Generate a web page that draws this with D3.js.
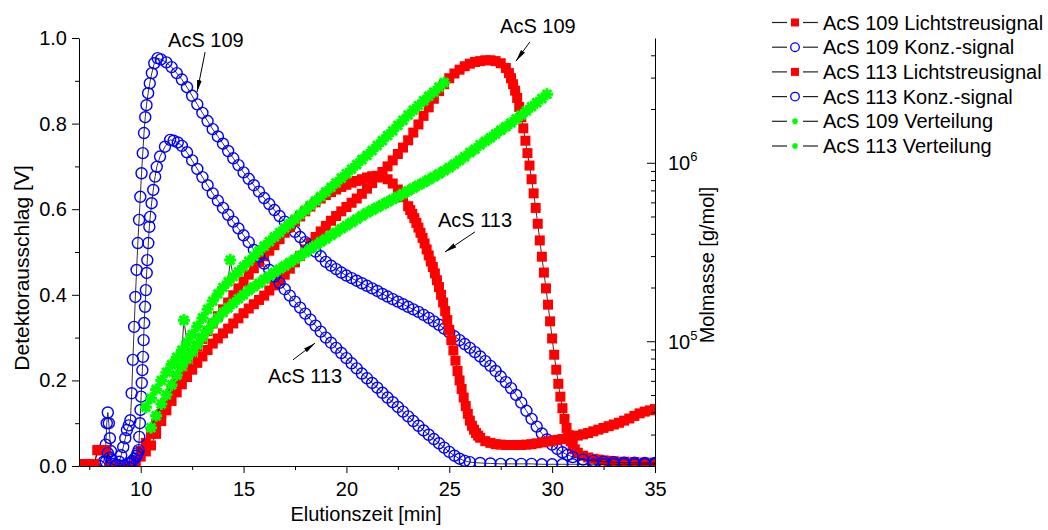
<!DOCTYPE html>
<html><head><meta charset="utf-8">
<script src="https://cdn.jsdelivr.net/npm/d3@7"></script>
<style>
body{margin:0;background:#fff}
text{font-family:Arial,"Liberation Sans",sans-serif;fill:#000}
</style></head>
<body><svg id="c" width="1048" height="530"></svg>
<script>
// ---------- data: [Elutionszeit (min), value] ----------
const ls109 = [[7,0.004],[7.25,0.004],[7.5,0.004],[7.75,0.004],[7.9,0.037],[8.1,0.037],[8.3,0.037],[8.5,0],[8.75,0],[9,0],[9.25,0],[9.5,0],
[9.75,0.01],[10,0.022],[10.25,0.034],[10.5,0.048],[10.75,0.075],[11,0.105],[11.25,0.13],[11.5,0.152],[11.75,0.172],[12,0.191],[12.25,0.208],[12.5,0.225],[12.75,0.241],[13,0.256],[13.25,0.271],[13.5,0.286],[13.75,0.298],[14,0.31],[14.25,0.321],[14.5,0.333],[14.75,0.345],[15,0.357],[15.25,0.368],[15.5,0.378],[15.75,0.388],[16,0.398],[16.25,0.41],[16.5,0.422],[16.75,0.433],[17,0.447],[17.25,0.461],[17.5,0.476],[17.75,0.491],[18,0.506],[18.25,0.521],[18.5,0.535],[18.75,0.548],[19,0.561],[19.25,0.573],[19.5,0.584],[19.75,0.595],[20,0.605],[20.25,0.615],[20.5,0.625],[20.75,0.636],[21,0.648],[21.25,0.661],[21.5,0.674],[21.75,0.687],[22,0.7],[22.25,0.714],[22.5,0.729],[22.75,0.744],[23,0.761],[23.25,0.779],[23.5,0.798],[23.75,0.818],[24,0.838],[24.25,0.858],[24.5,0.876],[24.75,0.892],[25,0.906],[25.25,0.917],[25.5,0.926],[25.75,0.934],[26,0.94],[26.25,0.944],[26.5,0.946],[26.75,0.948],[27,0.948],[27.25,0.946],[27.5,0.941],[27.75,0.93],[27.9,0.918],[28,0.906],[28.1,0.892],[28.2,0.877],[28.3,0.86],[28.4,0.839],[28.5,0.815],[28.6,0.789],[28.7,0.76],[28.8,0.731],[28.9,0.702],[29,0.67],[29.1,0.637],[29.2,0.603],[29.3,0.566],[29.4,0.527],[29.5,0.489],[29.6,0.452],[29.7,0.415],[29.8,0.377],[29.9,0.338],[30,0.298],[30.1,0.26],[30.2,0.225],[30.3,0.192],[30.4,0.162],[30.5,0.135],[30.6,0.11],[30.7,0.089],[30.8,0.072],[30.9,0.058],[31,0.047],[31.1,0.039],[31.25,0.031],[31.5,0.024],[31.75,0.02],[32,0.017],[32.25,0.015],[32.5,0.013],[32.75,0.012],[33,0.011],[33.5,0.01],[34,0.009],[34.5,0.008],[35,0.008]];

const konz109 = [[8,0],[8.2,0.01],[8.3,0.05],[8.35,0.1],[8.4,0.125],[8.45,0.1],[8.5,0.065],[8.55,0.035],[8.6,0.015],[8.7,0.005],[8.8,0.002],[8.9,0.002],
[8.95,0.01],[9.05,0.025],[9.15,0.044],[9.25,0.065],[9.33,0.084],[9.42,0.095],[9.5,0.107],[9.56,0.17],[9.62,0.248],[9.68,0.325],[9.74,0.395],[9.8,0.458],[9.86,0.521],[9.92,0.575],[9.98,0.629],[10.04,0.684],[10.1,0.731],[10.16,0.778],[10.22,0.815],[10.28,0.843],[10.36,0.871],[10.44,0.894],[10.54,0.918],[10.66,0.941],[10.82,0.953],[10.98,0.95],
[11.25,0.943],[11.5,0.932],[11.75,0.918],[12,0.903],[12.25,0.885],[12.5,0.865],[12.75,0.845],[13,0.825],[13.25,0.806],[13.5,0.787],[13.75,0.77],[14,0.753],[14.25,0.736],[14.5,0.719],[14.75,0.703],[15,0.686],[15.25,0.671],[15.5,0.656],[15.75,0.641],[16,0.626],[16.25,0.612],[16.5,0.598],[16.75,0.584],[17,0.571],[17.25,0.559],[17.5,0.547],[17.75,0.535],[18,0.523],[18.25,0.512],[18.5,0.501],[18.75,0.49],[19,0.477],[19.25,0.468],[19.5,0.46],[19.75,0.452],[20,0.445],[20.25,0.439],[20.5,0.433],[20.75,0.427],[21,0.421],[21.25,0.415],[21.5,0.409],[21.75,0.402],[22,0.396],[22.25,0.39],[22.5,0.384],[22.75,0.378],[23,0.372],[23.25,0.366],[23.5,0.36],[23.75,0.353],[24,0.346],[24.25,0.338],[24.5,0.33],[24.75,0.321],[25,0.312],[25.25,0.303],[25.5,0.294],[25.75,0.285],[26,0.276],[26.25,0.266],[26.5,0.256],[26.75,0.245],[27,0.234],[27.25,0.222],[27.5,0.209],[27.75,0.196],[28,0.182],[28.25,0.166],[28.5,0.148],[28.75,0.129],[29,0.11],[29.25,0.092],[29.5,0.076],[29.75,0.062],[30,0.05],[30.25,0.04],[30.5,0.032],[30.75,0.026],[31,0.021],[31.5,0.015],[32,0.012],[32.5,0.01],[33,0.009],[33.5,0.008],[34,0.008],[34.5,0.007],[35,0.007]];

const ls113 = [[7,0.004],[7.25,0.004],[7.5,0.004],[7.75,0.004],[7.9,0.037],[8.1,0.037],[8.3,0.037],[8.5,0],[8.75,0],[9,0],[9.25,0],[9.5,0],
[9.75,0.012],[10,0.035],[10.25,0.054],[10.5,0.076],[10.75,0.097],[11,0.122],[11.25,0.15],[11.5,0.178],[11.75,0.203],[12,0.226],[12.25,0.245],[12.5,0.262],[12.75,0.279],[13,0.297],[13.25,0.315],[13.5,0.333],[13.75,0.35],[14,0.366],[14.25,0.382],[14.5,0.399],[14.75,0.415],[15,0.431],[15.25,0.447],[15.5,0.462],[15.75,0.477],[16,0.49],[16.25,0.503],[16.5,0.516],[16.75,0.53],[17,0.545],[17.25,0.558],[17.5,0.571],[17.75,0.583],[18,0.595],[18.25,0.606],[18.5,0.616],[18.75,0.625],[19,0.633],[19.25,0.64],[19.5,0.646],[19.75,0.652],[20,0.657],[20.25,0.662],[20.5,0.666],[20.75,0.67],[21,0.674],[21.25,0.677],[21.5,0.678],[21.75,0.675],[22,0.67],[22.25,0.66],[22.5,0.646],[22.75,0.628],[23,0.607],[23.1,0.598],[23.2,0.589],[23.3,0.579],[23.4,0.568],[23.5,0.557],[23.6,0.545],[23.7,0.533],[23.8,0.52],[23.9,0.506],[24,0.492],[24.1,0.478],[24.2,0.465],[24.3,0.45],[24.4,0.434],[24.5,0.418],[24.6,0.4],[24.7,0.382],[24.8,0.362],[24.9,0.341],[25,0.318],[25.1,0.294],[25.2,0.27],[25.3,0.246],[25.4,0.222],[25.5,0.2],[25.6,0.18],[25.7,0.16],[25.8,0.14],[25.9,0.122],[26,0.106],[26.1,0.094],[26.2,0.085],[26.3,0.077],[26.4,0.071],[26.5,0.066],[26.75,0.058],[27,0.054],[27.25,0.051],[27.5,0.05],[27.75,0.049],[28,0.049],[28.25,0.049],[28.5,0.049],[28.75,0.05],[29,0.051],[29.25,0.053],[29.5,0.055],[29.75,0.057],[30,0.059],[30.25,0.061],[30.5,0.063],[30.75,0.065],[31,0.068],[31.25,0.071],[31.5,0.074],[31.75,0.077],[32,0.081],[32.25,0.085],[32.5,0.089],[32.75,0.093],[33,0.097],[33.25,0.101],[33.5,0.106],[33.75,0.111],[34,0.117],[34.25,0.123],[34.5,0.127],[34.75,0.13],[35,0.133]];

const konz113 = [[8.3,0.01],[8.4,0.03],[8.5,0.02],[8.6,0.005],[8.8,0],[9,0],[9.2,0.002],[9.4,0.005],[9.5,0.008],[9.6,0.012],[9.7,0.017],[9.8,0.024],[9.85,0.03],
[9.9,0.037],[9.93,0.068],[9.96,0.1],[9.99,0.131],[10.02,0.162],[10.05,0.194],[10.08,0.224],[10.11,0.255],[10.14,0.294],[10.17,0.334],[10.21,0.372],[10.25,0.411],[10.29,0.451],[10.32,0.481],[10.37,0.521],[10.42,0.559],[10.46,0.582],[10.53,0.614],[10.61,0.645],[10.7,0.676],[10.78,0.699],[10.94,0.723],[11.18,0.746],[11.43,0.762],
[11.6,0.76],[11.8,0.756],[12,0.748],[12.25,0.733],[12.5,0.714],[12.75,0.694],[13,0.675],[13.25,0.656],[13.5,0.637],[13.75,0.62],[14,0.603],[14.25,0.587],[14.5,0.571],[14.75,0.555],[15,0.539],[15.25,0.523],[15.5,0.505],[15.75,0.489],[16,0.473],[16.25,0.458],[16.5,0.443],[16.75,0.428],[17,0.413],[17.25,0.398],[17.5,0.384],[17.75,0.37],[18,0.356],[18.25,0.342],[18.5,0.328],[18.75,0.314],[19,0.3],[19.25,0.288],[19.5,0.276],[19.75,0.264],[20,0.252],[20.25,0.24],[20.5,0.228],[20.75,0.216],[21,0.205],[21.25,0.194],[21.5,0.183],[21.75,0.171],[22,0.16],[22.25,0.149],[22.5,0.138],[22.75,0.127],[23,0.116],[23.25,0.105],[23.5,0.094],[23.75,0.083],[24,0.073],[24.25,0.063],[24.5,0.053],[24.75,0.043],[25,0.033],[25.25,0.024],[25.5,0.017],[25.75,0.012],[26,0.009],[26.5,0.007],[27,0.006],[27.5,0.005],[28,0.005],[28.5,0.005],[29,0.005],[29.5,0.004],[30,0.004],[30.5,0.004],[31,0.004],[31.5,0.004],[32,0.004],[32.5,0.004],[33,0.004],[33.5,0.004],[34,0.004],[34.5,0.004],[35,0.004]];

// Verteilung: [Elutionszeit (min), Molmasse (g/mol)]
const vert109 = [[10.5,32800],[10.75,38200],[11,44500],[11.25,50100],[11.5,56900],[11.75,64600],[12,72400],[12.25,79400],[12.5,87100],[12.75,95500],[13,105000],[13.25,115000],[13.5,126000],[13.75,135000],[14,145000],[14.25,154000],[14.5,163000],[14.75,173000],[15,182000],[15.25,193000],[15.5,202000],[15.75,211000],[16,222000],[16.25,232000],[16.5,243000],[16.75,254000],[17,264000],[17.25,276000],[17.5,288000],[17.75,301000],[18,315000],[18.25,330000],[18.5,344000],[18.75,360000],[19,375000],[19.25,392000],[19.5,408000],[19.75,427000],[20,445000],[20.25,463000],[20.5,483000],[20.75,504000],[21,524000],[21.25,543000],[21.5,562000],[21.75,582000],[22,603000],[22.25,624000],[22.5,646000],[22.75,670000],[23,695000],[23.25,721000],[23.5,748000],[23.75,774000],[24,804000],[24.25,834000],[24.5,867000],[24.75,902000],[25,940000],[25.25,982000],[25.5,1030000],[25.75,1080000],[26,1140000],[26.25,1190000],[26.5,1260000],[26.75,1320000],[27,1380000],[27.25,1450000],[27.5,1520000],[27.75,1590000],[28,1670000],[28.25,1760000],[28.5,1850000],[28.75,1950000],[29,2060000],[29.25,2170000],[29.5,2290000],[29.75,2420000]];

const vert113 = [[10.25,42700],[10.5,47900],[10.75,53700],[11,60300],[11.25,67000],[11.5,74000],[11.75,81300],[12,89100],[12.1,131000],[12.25,98600],[12.5,109000],[12.75,121000],[13,135000],[13.25,151000],[13.5,168000],[13.75,184000],[14,200000],[14.25,215000],[14.35,285000],[14.5,230000],[14.75,245000],[15,262000],[15.25,280000],[15.5,299000],[15.75,320000],[16,341000],[16.25,362000],[16.5,384000],[16.75,406000],[17,431000],[17.25,456000],[17.5,483000],[17.75,513000],[18,543000],[18.25,577000],[18.5,611000],[18.75,647000],[19,686000],[19.25,728000],[19.5,771000],[19.75,819000],[20,867000],[20.25,920000],[20.5,977000],[20.75,1040000],[21,1100000],[21.25,1170000],[21.5,1250000],[21.75,1330000],[22,1420000],[22.25,1510000],[22.5,1620000],[22.75,1730000],[23,1850000],[23.25,1970000],[23.5,2090000],[23.75,2220000],[24,2360000],[24.25,2490000],[24.5,2650000],[24.75,2810000]];

const xMajorTicks = [10,15,20,25,30,35];
const xMinorTicks = [7.5,12.5,17.5,22.5,27.5,32.5];
const yMajorTicks = [0,0.2,0.4,0.6,0.8,1.0];
const yMinorTicks = [0.1,0.3,0.5,0.7,0.9];
const rMajorTicks = [1e5,1e6];
const rMinorTicks = [3e4,4e4,5e4,6e4,7e4,8e4,9e4,2e5,3e5,4e5,5e5,6e5,7e5,8e5,9e5,2e6,3e6,4e6];

const legendNames = ["AcS 109 Lichtstreusignal","AcS 109 Konz.-signal","AcS 113 Lichtstreusignal","AcS 113 Konz.-signal","AcS 109 Verteilung","AcS 113 Verteilung"];
const annotations = [
  {text:"AcS 109", t:11.33, v:0.979, from:[13.13,0.967], to:[12.74,0.874]},
  {text:"AcS 109", t:27.47, v:1.012, from:[28.92,0.991], to:[28.24,0.946]},
  {text:"AcS 113", t:24.45, v:0.558, from:[26.25,0.547], to:[24.79,0.50]},
  {text:"AcS 113", t:16.19, v:0.194, from:[17.40,0.248], to:[18.47,0.287]}
];

// ---------- layout ----------
const X0=79, X1=655, Y0=466, Y1=38;
const RED="#ff0000", BLUE="#0000ff", GREEN="#00ff00";
const x = d3.scaleLinear().domain([7,35]).range([X0,X1]);
const y = d3.scaleLinear().domain([0,1]).range([Y0,Y1]);
const yR = d3.scaleLog().domain([2e4,5e6]).range([Y0,Y1]);

const svg = d3.select("#c");
svg.append("defs").append("clipPath").attr("id","clip")
  .append("rect").attr("x",X0).attr("y",Y1-12).attr("width",X1-X0).attr("height",Y0-Y1+12);
svg.select("defs").append("marker").attr("id","arr").attr("viewBox","0 0 12 6")
  .attr("refX",12).attr("refY",3).attr("markerWidth",12).attr("markerHeight",6)
  .attr("markerUnits","userSpaceOnUse").attr("orient","auto")
  .append("path").attr("d","M0,0.6L12,3L0,5.4Z").attr("fill","#000");

const plot = svg.append("g").attr("clip-path","url(#clip)");
const line = ys => d3.line().x(d=>x(d[0])).y(d=>ys(d[1]));
const k=4.3, s=6;
const starD = `M${-s},0H${s}M0,${-s}V${s}M${-k},${-k}L${k},${k}M${-k},${k}L${k},${-k}`;
const sqD = "M-5,-5h10v10h-10Z";

function draw(data, ys, type){
  const g = plot.append("g");
  g.append("path").datum(data).attr("d", line(ys)).attr("fill","none").attr("stroke","#000").attr("stroke-width",0.8);
  if(type==="sq"){
    g.selectAll("path.m").data(data).join("path").attr("class","m").attr("d",sqD)
      .attr("transform",d=>`translate(${x(d[0])},${ys(d[1])})`).attr("fill",RED);
  } else if(type==="ci"){
    g.selectAll("circle").data(data).join("circle").attr("cx",d=>x(d[0])).attr("cy",d=>ys(d[1]))
      .attr("r",5.5).attr("fill","none").attr("stroke",BLUE).attr("stroke-width",1.4);
  } else {
    g.selectAll("path.m").data(data).join("path").attr("class","m").attr("d",starD)
      .attr("transform",d=>`translate(${x(d[0])},${ys(d[1])})`).attr("stroke",GREEN).attr("stroke-width",3).attr("fill","none");
  }
}
draw(ls109, y, "sq");
draw(konz109, y, "ci");
draw(ls113, y, "sq");
draw(konz113, y, "ci");
draw(vert109, yR, "st");
draw(vert113, yR, "st");

// ---------- axes ----------
function styleAxis(g){
  g.selectAll("path.domain").attr("stroke","#000").attr("stroke-width",1);
  g.selectAll(".tick line").attr("stroke","#000").attr("stroke-width",1);
  g.selectAll(".tick text").attr("font-size",20).attr("font-family","Arial, 'Liberation Sans', sans-serif").attr("fill","#000");
}
const gx = svg.append("g").attr("transform",`translate(0,${Y0})`)
  .call(d3.axisBottom(x).tickValues(xMajorTicks).tickSize(7).tickSizeOuter(0).tickPadding(9).tickFormat(d3.format("d")));
styleAxis(gx);
const gx2 = svg.append("g").attr("transform",`translate(0,${Y0})`)
  .call(d3.axisBottom(x).tickValues(xMinorTicks).tickSize(4).tickFormat(""));
gx2.select(".domain").remove(); styleAxis(gx2);

const gy = svg.append("g").attr("transform",`translate(${X0},0)`)
  .call(d3.axisLeft(y).tickValues(yMajorTicks).tickSize(7).tickSizeOuter(0).tickPadding(5).tickFormat(d3.format(".1f")));
styleAxis(gy);
const gy2 = svg.append("g").attr("transform",`translate(${X0},0)`)
  .call(d3.axisLeft(y).tickValues(yMinorTicks).tickSize(4).tickFormat(""));
gy2.select(".domain").remove(); styleAxis(gy2);

const gr = svg.append("g").attr("transform",`translate(${X1},0)`)
  .call(d3.axisRight(yR).tickValues(rMajorTicks).tickSize(-8).tickSizeOuter(0).tickPadding(13).tickFormat(""));
styleAxis(gr);
gr.selectAll(".tick text").each(function(d){
  const t = d3.select(this).attr("font-size",20).attr("dy","0.35em");
  t.append("tspan").text("10");
  t.append("tspan").text(Math.round(Math.log10(d))).attr("font-size",13).attr("dy","-0.7em");
});
const gr2 = svg.append("g").attr("transform",`translate(${X1},0)`)
  .call(d3.axisRight(yR).tickValues(rMinorTicks).tickSize(-4).tickFormat(""));
gr2.select(".domain").remove(); styleAxis(gr2);

// titles
svg.append("text").attr("x",366).attr("y",521).attr("text-anchor","middle").attr("font-size",20).text("Elutionszeit [min]");
svg.append("text").attr("transform","translate(22,268) rotate(-90)").attr("dy","0.35em").attr("text-anchor","middle").attr("font-size",21).text("Detektorausschlag [V]");
svg.append("text").attr("transform","translate(707,265) rotate(-90)").attr("dy","0.35em").attr("text-anchor","middle").attr("font-size",20).text("Molmasse [g/mol]");

// annotations
const ga = svg.append("g");
annotations.forEach(a=>{
  ga.append("text").attr("x",x(a.t)).attr("y",y(a.v)).attr("font-size",20).text(a.text);
  ga.append("line").attr("x1",x(a.from[0])).attr("y1",y(a.from[1])).attr("x2",x(a.to[0])).attr("y2",y(a.to[1]))
    .attr("stroke","#000").attr("stroke-width",1).attr("marker-end","url(#arr)");
});

// legend
const types = ["sq","ci","sq","ci","st","st"];
const colors = [RED,BLUE,RED,BLUE,GREEN,GREEN];
const lg = svg.append("g");
legendNames.forEach((name,i)=>{
  const cy = 22.5 + i*24.7;
  const row = lg.append("g").attr("transform",`translate(0,${cy})`);
  row.append("line").attr("x1",772).attr("x2",787).attr("y1",0).attr("y2",0).attr("stroke","#222").attr("stroke-width",1.2);
  row.append("line").attr("x1",803).attr("x2",818).attr("y1",0).attr("y2",0).attr("stroke","#222").attr("stroke-width",1.2);
  if(types[i]==="sq") row.append("path").attr("d","M-4,-4h8v8h-8Z").attr("transform","translate(795,0)").attr("fill",colors[i]);
  else if(types[i]==="ci") row.append("circle").attr("cx",795).attr("cy",0).attr("r",4.3).attr("fill","#fff").attr("stroke",colors[i]).attr("stroke-width",1.3);
  else row.append("path").attr("d","M-3,0H3M0,-3V3M-2.2,-2.2L2.2,2.2M-2.2,2.2L2.2,-2.2").attr("transform","translate(795,0)").attr("stroke",colors[i]).attr("stroke-width",1.6);
  row.append("text").attr("x",823).attr("y",0).attr("dy","0.35em").attr("font-size",20).text(name);
});
</script>
</body></html>
